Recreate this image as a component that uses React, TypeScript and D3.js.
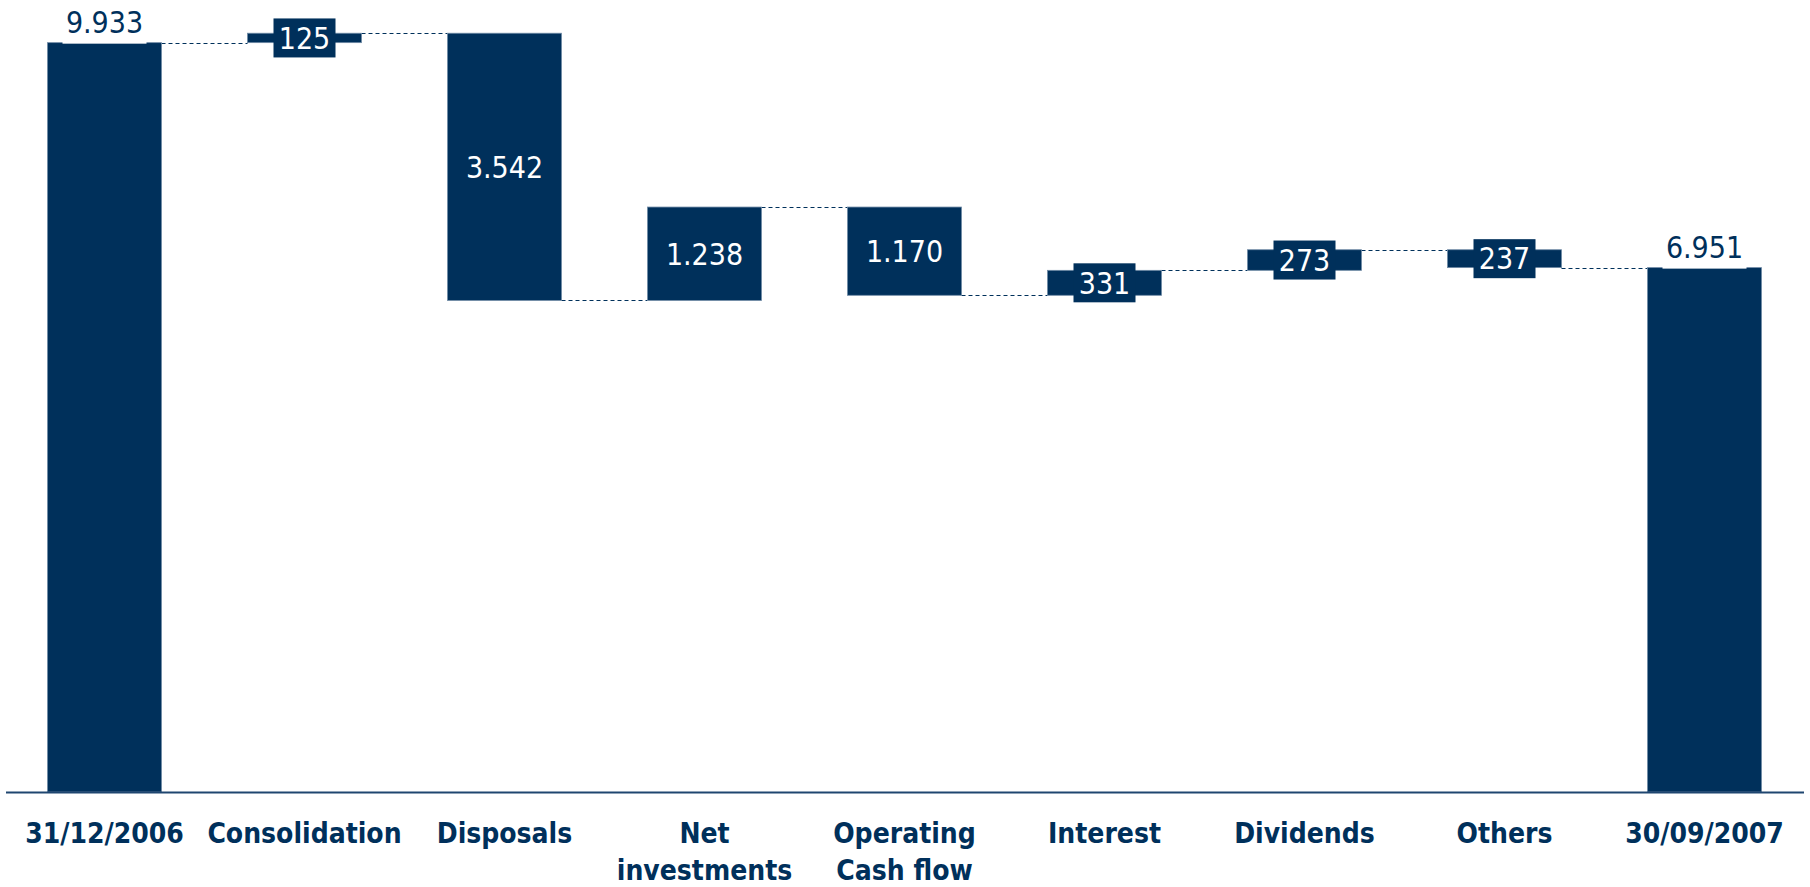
//@ts-nocheck
import { useEffect, useRef } from 'react';
import * as d3 from 'd3';

// categories and values (millions, dot as thousands separator)
const categories = ['31/12/2006', 'Consolidation', 'Disposals', 'Net investments', 'Operating Cash flow', 'Interest', 'Dividends', 'Others', '30/09/2007'];
const labelLines = [['31/12/2006'], ['Consolidation'], ['Disposals'], ['Net', 'investments'], ['Operating', 'Cash flow'], ['Interest'], ['Dividends'], ['Others'], ['30/09/2007']];
const values = [9933, 125, -3542, 1238, -1170, 331, 273, -237, 6951];
const valueLabels = ['9.933', '125', '3.542', '1.238', '1.170', '331', '273', '237', '6.951'];
const isTotal = [true, false, false, false, false, false, false, false, true];

const NAVY = '#00305b';
const FONT = '"DejaVu Sans Condensed", "DejaVu Sans", sans-serif';

const App = () => {
    const svgRef = useRef();

    useEffect(() => {
        document.body.style.margin = '0';
        document.body.style.overflow = 'hidden';
        const svg = d3.select(svgRef.current);
        svg.selectAll('*').remove();

        const baseY = 792;

        const x = d3.scaleBand()
            .domain(categories)
            .range([4.5, 1804.5])
            .paddingInner(0.43)
            .paddingOuter(0.215);

        const y = d3.scaleLinear()
            .domain([0, 10000])
            .range([baseY, baseY - 754.4]);

        // build waterfall segments
        let running = 0;
        const bars = categories.map((c, i) => {
            let start, end;
            if (isTotal[i]) {
                start = 0;
                end = values[i];
                running = values[i];
            } else {
                start = running;
                end = running + values[i];
                running = end;
            }
            return { cat: c, start, end, level: running, i };
        });

        const bw = x.bandwidth();

        // connectors
        bars.slice(0, -1).forEach((b, i) => {
            const next = bars[i + 1];
            const ly = Math.round(y(b.level)) + 0.5;
            svg.append('line')
                .attr('x1', x(b.cat) + bw)
                .attr('x2', x(next.cat))
                .attr('y1', ly)
                .attr('y2', ly)
                .attr('stroke', NAVY)
                .attr('stroke-width', 1)
                .attr('stroke-dasharray', '4,3');
        });

        // bars
        svg.selectAll('.bar')
            .data(bars)
            .enter()
            .append('rect')
            .attr('class', 'bar')
            .attr('x', d => x(d.cat))
            .attr('width', bw)
            .attr('y', d => y(Math.max(d.start, d.end)))
            .attr('height', d => Math.abs(y(d.start) - y(d.end)))
            .attr('fill', NAVY)
            .attr('stroke', '#6f8aa5')
            .attr('stroke-width', 0.8);

        // axis line
        svg.append('line')
            .attr('x1', 6)
            .attr('x2', 1804)
            .attr('y1', baseY + 0.5)
            .attr('y2', baseY + 0.5)
            .attr('stroke', '#1f4670')
            .attr('stroke-width', 2);

        // value labels
        bars.forEach((b, i) => {
            const cx = x(b.cat) + bw / 2;
            const top = y(Math.max(b.start, b.end));
            const bottom = y(Math.min(b.start, b.end));
            if (isTotal[i]) {
                svg.append('rect')
                    .attr('x', cx - 42)
                    .attr('y', top - 43)
                    .attr('width', 84)
                    .attr('height', 44)
                    .attr('fill', '#fff');
                svg.append('text')
                    .attr('x', cx)
                    .attr('y', top - 10)
                    .attr('text-anchor', 'middle')
                    .style('font-family', FONT)
                    .style('font-size', '30px')
                    .attr('fill', NAVY)
                    .text(valueLabels[i]);
            } else if (bottom - top < 60) {
                const cy = (top + bottom) / 2;
                svg.append('rect')
                    .attr('x', cx - 31)
                    .attr('y', cy - 19.5)
                    .attr('width', 62)
                    .attr('height', 39)
                    .attr('fill', NAVY);
                svg.append('text')
                    .attr('x', cx)
                    .attr('y', cy)
                    .attr('dy', '0.36em')
                    .attr('text-anchor', 'middle')
                    .style('font-family', FONT)
                    .style('font-size', '30px')
                    .attr('fill', '#fff')
                    .text(valueLabels[i]);
            } else {
                svg.append('text')
                    .attr('x', cx)
                    .attr('y', (top + bottom) / 2)
                    .attr('dy', '0.36em')
                    .attr('text-anchor', 'middle')
                    .style('font-family', FONT)
                    .style('font-size', '30px')
                    .attr('fill', '#fff')
                    .text(valueLabels[i]);
            }
        });

        // category labels
        labelLines.forEach((lines, i) => {
            const t = svg.append('text')
                .attr('x', x(categories[i]) + bw / 2)
                .attr('y', 843)
                .attr('text-anchor', 'middle')
                .style('font-family', FONT)
                .style('font-size', '28px')
                .style('font-weight', 'bold')
                .attr('fill', NAVY);
            lines.forEach((l, j) => {
                t.append('tspan')
                    .attr('x', x(categories[i]) + bw / 2)
                    .attr('dy', j === 0 ? 0 : 37)
                    .text(l);
            });
        });
    }, []);

    return (
        <svg ref={svgRef} width={1810} height={887} style={{ display: 'block' }}></svg>
    );
};

export default App;
